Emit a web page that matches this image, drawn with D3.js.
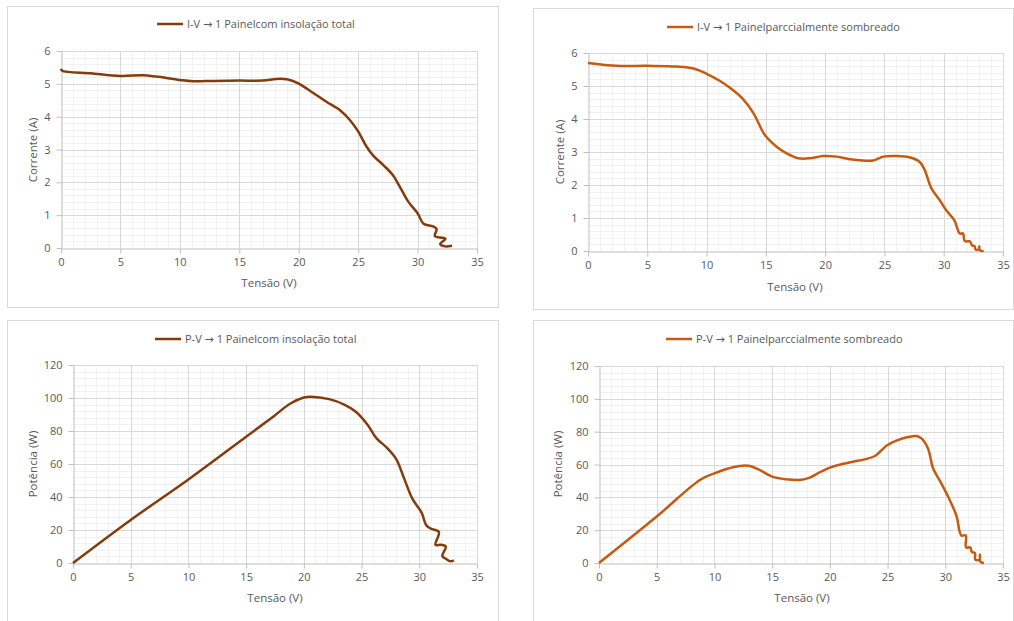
<!DOCTYPE html>
<html>
<head>
<meta charset="utf-8">
<script src="https://cdn.jsdelivr.net/npm/d3@7"></script>
<style>
  body { margin: 0; background: #fff; }
  text { font-family: "Open Sans", "Noto Sans", sans-serif; fill: #595959; }
</style>
</head>
<body>
<svg id="chart" width="1014" height="621"></svg>
<script>
// ---- data ----
const xTicks = [0, 5, 10, 15, 20, 25, 30, 35];
const ivTicks = [0, 1, 2, 3, 4, 5, 6];
const pvTicks = [0, 20, 40, 60, 80, 100, 120];

// I-V, full insolation
const ivTotalV = [0, 0.1, 2.5, 5.0, 6.9, 8.0, 10.0, 11.1, 12.8, 15.0, 17.0, 18.1, 19.0, 20.0, 21.2, 22.3, 23.5, 24.3, 25.0, 25.7, 26.25, 27.1, 27.9, 28.5, 29.2, 30.0, 30.5, 31.3, 31.6, 31.45, 31.9, 32.35, 31.9, 32.3, 32.9];
const ivTotalI = [5.46, 5.40, 5.32, 5.24, 5.26, 5.22, 5.12, 5.08, 5.09, 5.10, 5.10, 5.15, 5.14, 5.01, 4.73, 4.46, 4.19, 3.90, 3.55, 3.09, 2.82, 2.53, 2.23, 1.87, 1.42, 1.06, 0.74, 0.66, 0.58, 0.36, 0.32, 0.28, 0.12, 0.05, 0.07];

// I-V, partially shaded
const ivShadeV = [0, 2.44, 5.0, 7.5, 8.9, 10.0, 11.1, 12.0, 13.0, 13.95, 14.9, 15.9, 16.75, 17.74, 18.7, 19.85, 20.97, 22.1, 23.2, 24.05, 24.9, 26.0, 27.1, 28.0, 28.4, 28.96, 29.67, 30.2, 30.9, 31.35, 31.63, 31.77, 32.2, 32.4, 32.6, 32.7, 32.98, 33.0, 33.05, 33.37];
const ivShadeI = [5.70, 5.61, 5.61, 5.59, 5.53, 5.37, 5.16, 4.94, 4.63, 4.18, 3.52, 3.16, 2.96, 2.81, 2.81, 2.88, 2.86, 2.78, 2.74, 2.74, 2.86, 2.88, 2.84, 2.69, 2.45, 1.90, 1.54, 1.24, 0.93, 0.53, 0.53, 0.30, 0.29, 0.17, 0.15, 0.04, 0.06, 0.14, 0.02, 0.0];

// P-V, full insolation
const pvTotalV = [0, 5.0, 10.0, 15.0, 17.4, 18.8, 20.0, 20.6, 22.2, 23.5, 24.5, 25.5, 26.3, 27.2, 28.0, 28.7, 29.4, 30.2, 30.6, 31.0, 31.7, 31.4, 31.9, 32.3, 32.0, 32.3, 32.7, 33.0];
const pvTotalP = [0, 26.1, 50.6, 76.5, 89.0, 96.5, 100.3, 100.8, 99.3, 96.0, 91.7, 84.0, 75.5, 69.8, 63.0, 51.0, 39.0, 30.5, 22.9, 20.8, 18.8, 11.0, 11.0, 10.0, 4.2, 2.6, 1.0, 1.6];

// P-V, partially shaded
const pvShadeV = [0, 5.0, 8.74, 10.0, 11.05, 12.2, 13.07, 13.9, 15.0, 16.2, 17.4, 18.26, 19.1, 20.0, 21.0, 22.0, 23.0, 23.9, 24.9, 25.76, 26.77, 27.5, 27.93, 28.5, 28.94, 29.57, 30.24, 30.96, 31.39, 31.77, 31.8, 32.17, 32.3, 32.57, 32.6, 32.97, 33.0, 33.05, 33.35];
const pvShadeP = [0, 28.3, 50.6, 54.6, 57.3, 59.1, 59.1, 56.7, 52.6, 51.0, 50.6, 52.0, 55.2, 58.1, 60.1, 61.7, 63.1, 65.2, 71.4, 74.5, 76.7, 77.3, 75.9, 69.8, 57.7, 49.6, 40.5, 28.9, 16.8, 16.8, 9.5, 9.5, 6.7, 6.1, 2.0, 2.0, 5.1, 0.8, 0];

class CurveChart {

    constructor(_config, _xs, _ys) {
        this.config = _config;
        this.xs = _xs;
        this.ys = _ys;
        this.initVis();
    }

    initVis() {
        let vis = this;
        const c = vis.config;

        vis.g = d3.select('#chart').append('g');

        // chart area frame
        vis.g.append('rect')
            .attr('x', c.box[0] + 0.5).attr('y', c.box[1] + 0.5)
            .attr('width', c.box[2]).attr('height', c.box[3])
            .attr('fill', '#fff').attr('stroke', '#d9d9d9');

        vis.xScale = d3.scaleLinear().domain([0, 35]).range([c.plot.left, c.plot.right]);
        vis.yScale = d3.scaleLinear().domain([0, c.yMax]).range([c.plot.bottom, c.plot.top]);

        // minor grid: every 1 V and every 1/5 of a major y step
        const xMinor = d3.range(1, 35, 1).filter(d => d % 5 != 0);
        const yStep = c.yTicks[1] / 5;
        const yMinor = d3.range(yStep, c.yMax, yStep).filter((d, i) => (i + 1) % 5 != 0);

        vis.g.append('g').selectAll('line').data(xMinor).join('line')
            .attr('x1', d => Math.round(vis.xScale(d)) + 0.5).attr('x2', d => Math.round(vis.xScale(d)) + 0.5)
            .attr('y1', c.plot.top).attr('y2', c.plot.bottom)
            .attr('stroke', '#f2f2f2');
        vis.g.append('g').selectAll('line').data(yMinor).join('line')
            .attr('y1', d => Math.round(vis.yScale(d)) + 0.5).attr('y2', d => Math.round(vis.yScale(d)) + 0.5)
            .attr('x1', c.plot.left).attr('x2', c.plot.right)
            .attr('stroke', '#f2f2f2');

        // major grid
        vis.g.append('g').selectAll('line').data(xTicks.slice(1)).join('line')
            .attr('x1', d => Math.round(vis.xScale(d)) + 0.5).attr('x2', d => Math.round(vis.xScale(d)) + 0.5)
            .attr('y1', c.plot.top).attr('y2', c.plot.bottom)
            .attr('stroke', '#d9d9d9');
        vis.g.append('g').selectAll('line').data(c.yTicks.slice(1)).join('line')
            .attr('y1', d => Math.round(vis.yScale(d)) + 0.5).attr('y2', d => Math.round(vis.yScale(d)) + 0.5)
            .attr('x1', c.plot.left).attr('x2', c.plot.right)
            .attr('stroke', '#d9d9d9');

        // axes
        vis.xAxisG = vis.g.append('g')
            .attr('transform', `translate(0,${Math.round(c.plot.bottom) + 0.5})`)
            .call(d3.axisBottom(vis.xScale).tickValues(xTicks).tickFormat(d3.format('d'))
                .tickSize(5).tickPadding(5).tickSizeOuter(0));
        vis.yAxisG = vis.g.append('g')
            .attr('transform', `translate(${Math.round(c.plot.left) + 0.5},0)`)
            .call(d3.axisLeft(vis.yScale).tickValues(c.yTicks).tickFormat(d3.format('d'))
                .tickSize(5).tickPadding(6).tickSizeOuter(0));

        for (const ax of [vis.xAxisG, vis.yAxisG]) {
            ax.selectAll('.domain, line').attr('stroke', '#bfbfbf');
            ax.selectAll('text')
                .attr('fill', '#595959')
                .style('font-family', '"Open Sans", "Noto Sans", sans-serif')
                .style('font-size', '11px');
        }

        // axis titles
        vis.g.append('text')
            .attr('x', c.xTitle[0]).attr('y', c.xTitle[1])
            .attr('text-anchor', 'middle')
            .style('font-size', '11.5px')
            .text('Tensão (V)');
        vis.g.append('text')
            .attr('transform', `translate(${c.yTitle[0]},${c.yTitle[1]}) rotate(-90)`)
            .attr('text-anchor', 'middle')
            .style('font-size', '11.5px')
            .text(c.yLabel);

        // legend
        vis.g.append('line')
            .attr('x1', c.legend[0]).attr('x2', c.legend[0] + 26)
            .attr('y1', c.legend[1]).attr('y2', c.legend[1])
            .attr('stroke', c.color).attr('stroke-width', 2.5);
        const lt = vis.g.append('text')
            .attr('x', c.legend[0] + 30).attr('y', c.legend[1] + 4)
            .style('font-size', '11px');
        lt.append('tspan').text(c.title[0] + ' ');
        lt.append('tspan').style('font-family', '"DejaVu Sans", sans-serif').text('→');
        lt.append('tspan').text(' ' + c.title[1]);

        vis.renderVis();
    }

    renderVis() {
        let vis = this;

        const pts = vis.xs.map((x, i) => [x, vis.ys[i]]);

        vis.line = d3.line()
            .x(d => vis.xScale(d[0]))
            .y(d => vis.yScale(d[1]))
            .curve(d3.curveCatmullRom.alpha(0.5));

        vis.g.append('path')
            .datum(pts)
            .attr('fill', 'none')
            .attr('stroke', vis.config.color)
            .attr('stroke-width', 2.5)
            .attr('stroke-linejoin', 'round')
            .attr('d', vis.line);
    }
}

const brown = '#843c0c';
const orange = '#c55a11';

new CurveChart({
    box: [7, 6, 491, 301],
    plot: { left: 61, right: 477, top: 51, bottom: 248 },
    yMax: 6, yTicks: ivTicks, yLabel: 'Corrente (A)',
    xTitle: [269, 287], yTitle: [37, 150],
    legend: [157, 24],
    color: brown,
    title: ['I-V', '1 Painelcom insolação total']
}, ivTotalV, ivTotalI);

new CurveChart({
    box: [533, 8, 480, 301],
    plot: { left: 588, right: 1003, top: 53, bottom: 251 },
    yMax: 6, yTicks: ivTicks, yLabel: 'Corrente (A)',
    xTitle: [795, 291], yTitle: [564, 152],
    legend: [667, 27],
    color: orange,
    title: ['I-V', '1 Painelparccialmente sombreado']
}, ivShadeV, ivShadeI);

new CurveChart({
    box: [7, 320, 491, 310],
    plot: { left: 73, right: 477, top: 365, bottom: 563 },
    yMax: 120, yTicks: pvTicks, yLabel: 'Potência (W)',
    xTitle: [275, 602], yTitle: [37, 464],
    legend: [155, 339],
    color: brown,
    title: ['P-V', '1 Painelcom insolação total']
}, pvTotalV, pvTotalP);

new CurveChart({
    box: [533, 320, 480, 310],
    plot: { left: 599, right: 1003, top: 366, bottom: 563 },
    yMax: 120, yTicks: pvTicks, yLabel: 'Potência (W)',
    xTitle: [802, 602], yTitle: [562, 464],
    legend: [666, 339],
    color: orange,
    title: ['P-V', '1 Painelparccialmente sombreado']
}, pvShadeV, pvShadeP);
</script>
</body>
</html>
